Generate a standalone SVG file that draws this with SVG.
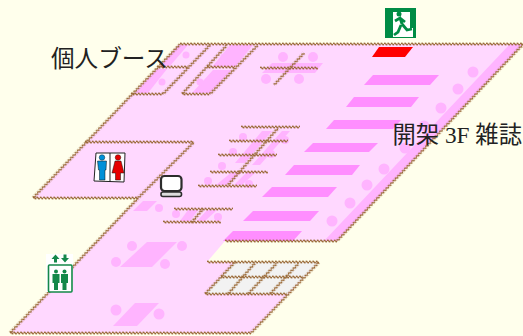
<svg xmlns="http://www.w3.org/2000/svg" width="523" height="336" viewBox="0 0 523 336">
<style>
.l{fill:#ffb4ff}.s{fill:#ff8eff}.c{fill:#f2f2f2}
.w{fill:url(#wave)}
.t{font-family:"Liberation Serif","Noto Sans CJK JP",serif;fill:#222}
.g{fill:none;stroke:#14884a;stroke-linecap:butt;stroke-linejoin:miter}
.gf{fill:#14884a}
</style>
<defs>
<pattern id="wave" patternUnits="userSpaceOnUse" x="0" y="-2" width="3.4" height="4">
<path d="M0 2Q.85 .4 1.7 2T3.4 2" fill="none" stroke="#9a6a38" stroke-width="1.400"/>
</pattern>
</defs>
<rect width="523" height="336" fill="#ffffec"/>
<g id="floor">
<polygon points="180,44 523,44 337,241 225,241 207,262 319,262 251,333 10,333 138,198 33,198" fill="#ffd8ff"/>
<polygon class="l" points="510,44 523,44 337,241 324,241"/>
<g class="l">
<circle cx="473" cy="72" r="5.5"/><circle cx="458" cy="89" r="5.5"/><circle cx="441" cy="108" r="5.5"/><circle cx="424" cy="126" r="5.5"/><circle cx="405" cy="148" r="5.5"/><circle cx="384" cy="169" r="5.5"/><circle cx="367" cy="185" r="5.5"/><circle cx="350" cy="203" r="5.5"/><circle cx="332" cy="221" r="5.5"/>
<polygon points="178,45 188,45 170,66 160,66"/><circle cx="186" cy="55" r="3.5"/>
<polygon points="157,69 167,69 148,93 135,93"/><circle cx="162" cy="82" r="3.5"/>
<polygon points="230,45 253,45 235,67 212,67"/><circle cx="224" cy="57" r="3.5"/>
<polygon points="213,70 232,70 210,93 192,93"/><circle cx="200" cy="82" r="3.5"/>
<polygon points="272,63 323,63 315,73 262,73"/>
<circle cx="283" cy="57" r="5"/><circle cx="313" cy="57" r="5"/><circle cx="266" cy="79" r="5"/><circle cx="299" cy="79" r="5"/>
<polygon points="262,131 272,131 245,163 235,163"/><polygon points="282,131 290,131 260,165 252,165"/>
<polygon points="232,172 242,172 226,185 216,185"/><polygon points="247,172 256,172 242,185 234,185"/>
<circle cx="243" cy="137" r="4"/><circle cx="233" cy="152" r="4"/><circle cx="222" cy="166" r="4"/><circle cx="285" cy="140" r="4"/><circle cx="271" cy="154" r="4"/><circle cx="208" cy="181" r="4"/><circle cx="249" cy="184" r="4"/>
<polygon points="188,210 198,210 190,221 180,221"/><polygon points="207,210 217,210 205,221 197,221"/><circle cx="176" cy="214" r="4"/><circle cx="218" cy="217" r="4"/>
<polygon points="143,201 157,201 147,211 133,211"/><circle cx="159" cy="208" r="4"/>
<polygon points="147,242 177,242 152,267 120,267"/><circle cx="132" cy="246" r="5"/><circle cx="182" cy="246" r="5"/><circle cx="116" cy="262" r="5"/><circle cx="165" cy="264" r="5"/>
<polygon points="135,303 159,303 137,326 113,326"/><circle cx="116" cy="310" r="5.5"/><circle cx="159" cy="314" r="5.5"/>
</g>
<polygon points="379,47 413,47 405,57 372,57" fill="#ff0000"/>
<polygon class="s" points="373,75 439,75 430,85 364,85"/>
<polygon class="s" points="354,97 419,97 411,107 346,107"/>
<polygon class="s" points="334,120 401,120 393,129 326,129"/>
<polygon class="s" points="313,143 378,143 369,152 304,152"/>
<polygon class="s" points="294,165 360,165 352,175 285,175"/>
<polygon class="s" points="272,187 337,187 328,197 262,197"/>
<polygon class="s" points="253,211 319,211 310,221 243,221"/>
<polygon class="s" points="233,231 302,231 293,241 223,241"/>
<polygon class="c" points="235,262 319,262 287,294 205,294"/>
</g>
<g id="walls">
<rect class="w" y="-2" height="4" width="343" transform="translate(180 44)"/>
<rect class="w" y="-2" height="4" width="112" transform="translate(225 241)"/>
<rect class="w" y="-2" height="4" width="112" transform="translate(207 262)"/>
<rect class="w" y="-2" height="4" width="82" transform="translate(221 277)"/>
<rect class="w" y="-2" height="4" width="82" transform="translate(205 294)"/>
<rect class="w" y="-2" height="4" width="241" transform="translate(10 333)"/>
<rect class="w" y="-2" height="4" width="108" transform="translate(85 142)"/>
<rect class="w" y="-2" height="4" width="105" transform="translate(33 198)"/>
<rect class="w" y="-2" height="4" width="32" transform="translate(131 94)"/>
<rect class="w" y="-2" height="4" width="28" transform="translate(182 94)"/>
<rect class="w" y="-2" height="4" width="31" transform="translate(157 67)"/>
<rect class="w" y="-2" height="4" width="28" transform="translate(207 67)"/>
<rect class="w" y="-2" height="4" width="58" transform="translate(260 68)"/>
<rect class="w" y="-2" height="4" width="59" transform="translate(241 127)"/>
<rect class="w" y="-2" height="4" width="59" transform="translate(229 141)"/>
<rect class="w" y="-2" height="4" width="59" transform="translate(218 155)"/>
<rect class="w" y="-2" height="4" width="58" transform="translate(210 172)"/>
<rect class="w" y="-2" height="4" width="59" transform="translate(198 186)"/>
<rect class="w" y="-2" height="4" width="59" transform="translate(174 209)"/>
<rect class="w" y="-2" height="4" width="58" transform="translate(163 222)"/>
<rect class="w" y="-2" height="4" width="213" transform="translate(33 198) rotate(-46.3)"/>
<rect class="w" y="-2" height="4" width="186" transform="translate(10 333) rotate(-46.5)"/>
<rect class="w" y="-2" height="4" width="79" transform="translate(138 198) rotate(-45)"/>
<rect class="w" y="-2" height="4" width="271" transform="translate(337 241) rotate(-46.6)"/>
<rect class="w" y="-2" height="4" width="98" transform="translate(251 333) rotate(-46.2)"/>
<rect class="w" y="-2" height="4" width="68" transform="translate(163 94) rotate(-46.2)"/>
<rect class="w" y="-2" height="4" width="66" transform="translate(182 94) rotate(-47.4)"/>
<rect class="w" y="-2" height="4" width="68" transform="translate(210 94) rotate(-45.6)"/>
<rect class="w" y="-2" height="4" width="44" transform="translate(274 85) rotate(-46.8)"/>
<rect class="w" y="-2" height="4" width="76" transform="translate(228 185) rotate(-48.7)"/>
<rect class="w" y="-2" height="4" width="18" transform="translate(191 223) rotate(-49.4)"/>
<rect class="w" y="-2" height="4" width="44" transform="translate(205 294) rotate(-46.8)"/>
<rect class="w" y="-2" height="4" width="41" transform="translate(228 294) rotate(-49)"/>
<rect class="w" y="-2" height="4" width="42" transform="translate(248 294) rotate(-47)"/>
<rect class="w" y="-2" height="4" width="42" transform="translate(270 294) rotate(-47)"/>
</g>
<g id="exit">
<rect x="385" y="8" width="31" height="30" fill="#008c45"/>
<path d="M393 12H410V28H413V37H393Z" fill="#fff"/>
<circle cx="399" cy="14" r="2.500" fill="#008c45"/>
<path d="M395 21L400 18L402 24M400 18L405 22M402 24L407 30L412 29M401 25L398 32L394 35" fill="none" stroke="#008c45" stroke-width="2.800"/>
</g>
<g id="restroom">
<polygon points="96,153 125,153 124,182 94,181" fill="#fff" stroke="#222" stroke-width="1"/>
<line x1="110" y1="153" x2="110" y2="182" stroke="#222" stroke-width="1"/>
<circle cx="102" cy="157.500" r="2.800" fill="#0090d8" stroke="#111" stroke-width=".4"/>
<path d="M97.500 161H106.500L106 170H105V180H99.500V170H98.500Z" fill="#0090d8" stroke="#111" stroke-width=".5"/>
<circle cx="118" cy="157.500" r="2.800" fill="#e60000" stroke="#111" stroke-width=".4"/>
<path d="M115 161H121L124 173H120.500V180H115.500V173H112Z" fill="#e60000" stroke="#111" stroke-width=".5"/>
</g>
<g id="computer">
<rect x="161" y="176" width="20.500" height="15" rx="3.500" fill="#fff" stroke="#2c2c2c" stroke-width="2.200"/>
<rect x="161" y="192" width="20.500" height="4.500" rx="2" fill="#ddd" stroke="#2c2c2c" stroke-width="1.600"/>
</g>
<g id="elevator">
<rect x="46" y="254" width="27" height="38" fill="#fff"/>
<rect x="48.500" y="265" width="23.500" height="27" rx="1" fill="#fff" stroke="#14884a" stroke-width="1.600"/>
<path class="gf" d="M55.500 254.500L59.500 259H57V262.500H54V259H51.500Z"/>
<path class="gf" d="M65 262.500L69 258H66.500V254.500H63.500V258H61Z"/>
<circle class="gf" cx="56" cy="271.500" r="2"/><circle class="gf" cx="64.500" cy="271.500" r="2"/>
<path class="gf" d="M52.500 274H59.500V283H58V290H54V283H52.500Z"/>
<path class="gf" d="M61 274H68V283H66.500V290H62.500V283H61Z"/>
</g>
<g id="labels">
<text class="t" font-size="23.600" x="51" y="67">個人ブース</text>
<text class="t" font-size="23.300" x="392.500" y="143">開架 3F 雑誌</text>
</g>
</svg>
